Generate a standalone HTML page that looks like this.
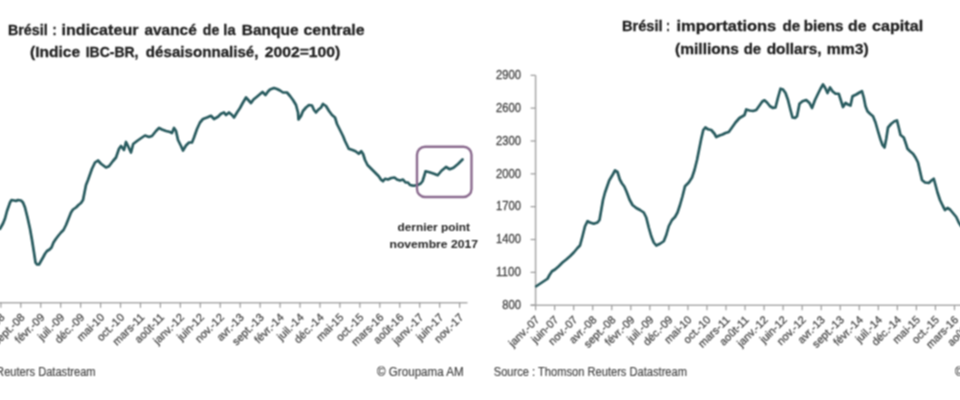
<!DOCTYPE html><html><head><meta charset="utf-8"><style>html,body{margin:0;padding:0;background:#fff;}svg{display:block;}text{font-family:"Liberation Sans",sans-serif;}</style></head><body>
<svg width="960" height="400" viewBox="0 0 960 400">
<defs><filter id="bl" filterUnits="userSpaceOnUse" x="-10" y="-10" width="980" height="420" color-interpolation-filters="sRGB"><feConvolveMatrix order="3" kernelMatrix="1 2 1 2 4 2 1 2 1" edgeMode="duplicate"/></filter></defs>
<rect width="960" height="400" fill="#fff"/>
<g filter="url(#bl)">
<text x="7.9" y="34.5" font-size="15" font-weight="bold" fill="#1e1e1e" stroke="#1e1e1e" stroke-width="0.3" textLength="39.8" lengthAdjust="spacingAndGlyphs">Brésil</text>
<text x="52.5" y="34.5" font-size="15" font-weight="bold" fill="#1e1e1e" stroke="#1e1e1e" stroke-width="0.3" textLength="4.1" lengthAdjust="spacingAndGlyphs">:</text>
<text x="61.48" y="34.5" font-size="15" font-weight="bold" fill="#1e1e1e" stroke="#1e1e1e" stroke-width="0.3" textLength="77.04" lengthAdjust="spacingAndGlyphs">indicateur</text>
<text x="144.5" y="34.5" font-size="15" font-weight="bold" fill="#1e1e1e" stroke="#1e1e1e" stroke-width="0.3" textLength="52.21" lengthAdjust="spacingAndGlyphs">avancé</text>
<text x="202.86" y="34.5" font-size="15" font-weight="bold" fill="#1e1e1e" stroke="#1e1e1e" stroke-width="0.3" textLength="16.47" lengthAdjust="spacingAndGlyphs">de</text>
<text x="223.34" y="34.5" font-size="15" font-weight="bold" fill="#1e1e1e" stroke="#1e1e1e" stroke-width="0.3" textLength="12.3" lengthAdjust="spacingAndGlyphs">la</text>
<text x="241.89" y="34.5" font-size="15" font-weight="bold" fill="#1e1e1e" stroke="#1e1e1e" stroke-width="0.3" textLength="56.62" lengthAdjust="spacingAndGlyphs">Banque</text>
<text x="303.5" y="34.5" font-size="15" font-weight="bold" fill="#1e1e1e" stroke="#1e1e1e" stroke-width="0.3" textLength="61.01" lengthAdjust="spacingAndGlyphs">centrale</text>
<text x="30.07" y="57.3" font-size="15" font-weight="bold" fill="#1e1e1e" stroke="#1e1e1e" stroke-width="0.3" textLength="50.05" lengthAdjust="spacingAndGlyphs">(Indice</text>
<text x="85.68" y="57.3" font-size="15" font-weight="bold" fill="#1e1e1e" stroke="#1e1e1e" stroke-width="0.3" textLength="52.84" lengthAdjust="spacingAndGlyphs">IBC-BR,</text>
<text x="145.89" y="57.3" font-size="15" font-weight="bold" fill="#1e1e1e" stroke="#1e1e1e" stroke-width="0.3" textLength="112.61" lengthAdjust="spacingAndGlyphs">désaisonnalisé,</text>
<text x="264.7" y="57.3" font-size="15" font-weight="bold" fill="#1e1e1e" stroke="#1e1e1e" stroke-width="0.3" textLength="75.6" lengthAdjust="spacingAndGlyphs">2002=100)</text>
<text x="621.89" y="31.0" font-size="15.5" font-weight="bold" fill="#1e1e1e" stroke="#1e1e1e" stroke-width="0.3" textLength="40.83" lengthAdjust="spacingAndGlyphs">Brésil</text>
<text x="666.3" y="31.0" font-size="15.5" font-weight="bold" fill="#1e1e1e" stroke="#1e1e1e" stroke-width="0.3" textLength="3.6" lengthAdjust="spacingAndGlyphs">:</text>
<text x="676.49" y="31.0" font-size="15.5" font-weight="bold" fill="#1e1e1e" stroke="#1e1e1e" stroke-width="0.3" textLength="99.82" lengthAdjust="spacingAndGlyphs">importations</text>
<text x="782.44" y="31.0" font-size="15.5" font-weight="bold" fill="#1e1e1e" stroke="#1e1e1e" stroke-width="0.3" textLength="17.7" lengthAdjust="spacingAndGlyphs">de</text>
<text x="803.67" y="31.0" font-size="15.5" font-weight="bold" fill="#1e1e1e" stroke="#1e1e1e" stroke-width="0.3" textLength="39.83" lengthAdjust="spacingAndGlyphs">biens</text>
<text x="848.08" y="31.0" font-size="15.5" font-weight="bold" fill="#1e1e1e" stroke="#1e1e1e" stroke-width="0.3" textLength="18.47" lengthAdjust="spacingAndGlyphs">de</text>
<text x="872.1" y="31.0" font-size="15.5" font-weight="bold" fill="#1e1e1e" stroke="#1e1e1e" stroke-width="0.3" textLength="51.02" lengthAdjust="spacingAndGlyphs">capital</text>
<text x="675.09" y="54.0" font-size="15.5" font-weight="bold" fill="#1e1e1e" stroke="#1e1e1e" stroke-width="0.3" textLength="63.82" lengthAdjust="spacingAndGlyphs">(millions</text>
<text x="743.71" y="54.0" font-size="15.5" font-weight="bold" fill="#1e1e1e" stroke="#1e1e1e" stroke-width="0.3" textLength="17.42" lengthAdjust="spacingAndGlyphs">de</text>
<text x="766.67" y="54.0" font-size="15.5" font-weight="bold" fill="#1e1e1e" stroke="#1e1e1e" stroke-width="0.3" textLength="54.86" lengthAdjust="spacingAndGlyphs">dollars,</text>
<text x="826.87" y="54.0" font-size="15.5" font-weight="bold" fill="#1e1e1e" stroke="#1e1e1e" stroke-width="0.3" textLength="41.83" lengthAdjust="spacingAndGlyphs">mm3)</text>
<line x1="-60" y1="302.8" x2="467.5" y2="302.8" stroke="#ababab" stroke-width="1.6"/>
<line x1="0.86" y1="302.8" x2="0.86" y2="307.8" stroke="#9a9a9a" stroke-width="1.2"/>
<text x="5.36" y="318.00" font-size="11" fill="#444444" stroke="#444444" stroke-width="0.25" text-anchor="end" transform="rotate(-45 5.36 318.00)">avr.-08</text>
<line x1="20.80" y1="302.8" x2="20.80" y2="307.8" stroke="#9a9a9a" stroke-width="1.2"/>
<text x="25.30" y="318.00" font-size="11" fill="#444444" stroke="#444444" stroke-width="0.25" text-anchor="end" transform="rotate(-45 25.30 318.00)">sept.-08</text>
<line x1="40.75" y1="302.8" x2="40.75" y2="307.8" stroke="#9a9a9a" stroke-width="1.2"/>
<text x="45.25" y="318.00" font-size="11" fill="#444444" stroke="#444444" stroke-width="0.25" text-anchor="end" transform="rotate(-45 45.25 318.00)">févr.-09</text>
<line x1="60.69" y1="302.8" x2="60.69" y2="307.8" stroke="#9a9a9a" stroke-width="1.2"/>
<text x="65.19" y="318.00" font-size="11" fill="#444444" stroke="#444444" stroke-width="0.25" text-anchor="end" transform="rotate(-45 65.19 318.00)">juil.-09</text>
<line x1="80.64" y1="302.8" x2="80.64" y2="307.8" stroke="#9a9a9a" stroke-width="1.2"/>
<text x="85.14" y="318.00" font-size="11" fill="#444444" stroke="#444444" stroke-width="0.25" text-anchor="end" transform="rotate(-45 85.14 318.00)">déc.-09</text>
<line x1="100.58" y1="302.8" x2="100.58" y2="307.8" stroke="#9a9a9a" stroke-width="1.2"/>
<text x="105.08" y="318.00" font-size="11" fill="#444444" stroke="#444444" stroke-width="0.25" text-anchor="end" transform="rotate(-45 105.08 318.00)">mai-10</text>
<line x1="120.52" y1="302.8" x2="120.52" y2="307.8" stroke="#9a9a9a" stroke-width="1.2"/>
<text x="125.02" y="318.00" font-size="11" fill="#444444" stroke="#444444" stroke-width="0.25" text-anchor="end" transform="rotate(-45 125.02 318.00)">oct.-10</text>
<line x1="140.47" y1="302.8" x2="140.47" y2="307.8" stroke="#9a9a9a" stroke-width="1.2"/>
<text x="144.97" y="318.00" font-size="11" fill="#444444" stroke="#444444" stroke-width="0.25" text-anchor="end" transform="rotate(-45 144.97 318.00)">mars-11</text>
<line x1="160.42" y1="302.8" x2="160.42" y2="307.8" stroke="#9a9a9a" stroke-width="1.2"/>
<text x="164.92" y="318.00" font-size="11" fill="#444444" stroke="#444444" stroke-width="0.25" text-anchor="end" transform="rotate(-45 164.92 318.00)">août-11</text>
<line x1="180.36" y1="302.8" x2="180.36" y2="307.8" stroke="#9a9a9a" stroke-width="1.2"/>
<text x="184.86" y="318.00" font-size="11" fill="#444444" stroke="#444444" stroke-width="0.25" text-anchor="end" transform="rotate(-45 184.86 318.00)">janv.-12</text>
<line x1="200.31" y1="302.8" x2="200.31" y2="307.8" stroke="#9a9a9a" stroke-width="1.2"/>
<text x="204.81" y="318.00" font-size="11" fill="#444444" stroke="#444444" stroke-width="0.25" text-anchor="end" transform="rotate(-45 204.81 318.00)">juin-12</text>
<line x1="220.25" y1="302.8" x2="220.25" y2="307.8" stroke="#9a9a9a" stroke-width="1.2"/>
<text x="224.75" y="318.00" font-size="11" fill="#444444" stroke="#444444" stroke-width="0.25" text-anchor="end" transform="rotate(-45 224.75 318.00)">nov.-12</text>
<line x1="240.20" y1="302.8" x2="240.20" y2="307.8" stroke="#9a9a9a" stroke-width="1.2"/>
<text x="244.70" y="318.00" font-size="11" fill="#444444" stroke="#444444" stroke-width="0.25" text-anchor="end" transform="rotate(-45 244.70 318.00)">avr.-13</text>
<line x1="260.14" y1="302.8" x2="260.14" y2="307.8" stroke="#9a9a9a" stroke-width="1.2"/>
<text x="264.64" y="318.00" font-size="11" fill="#444444" stroke="#444444" stroke-width="0.25" text-anchor="end" transform="rotate(-45 264.64 318.00)">sept.-13</text>
<line x1="280.09" y1="302.8" x2="280.09" y2="307.8" stroke="#9a9a9a" stroke-width="1.2"/>
<text x="284.59" y="318.00" font-size="11" fill="#444444" stroke="#444444" stroke-width="0.25" text-anchor="end" transform="rotate(-45 284.59 318.00)">févr.-14</text>
<line x1="300.03" y1="302.8" x2="300.03" y2="307.8" stroke="#9a9a9a" stroke-width="1.2"/>
<text x="304.53" y="318.00" font-size="11" fill="#444444" stroke="#444444" stroke-width="0.25" text-anchor="end" transform="rotate(-45 304.53 318.00)">juil.-14</text>
<line x1="319.98" y1="302.8" x2="319.98" y2="307.8" stroke="#9a9a9a" stroke-width="1.2"/>
<text x="324.48" y="318.00" font-size="11" fill="#444444" stroke="#444444" stroke-width="0.25" text-anchor="end" transform="rotate(-45 324.48 318.00)">déc.-14</text>
<line x1="339.92" y1="302.8" x2="339.92" y2="307.8" stroke="#9a9a9a" stroke-width="1.2"/>
<text x="344.42" y="318.00" font-size="11" fill="#444444" stroke="#444444" stroke-width="0.25" text-anchor="end" transform="rotate(-45 344.42 318.00)">mai-15</text>
<line x1="359.87" y1="302.8" x2="359.87" y2="307.8" stroke="#9a9a9a" stroke-width="1.2"/>
<text x="364.37" y="318.00" font-size="11" fill="#444444" stroke="#444444" stroke-width="0.25" text-anchor="end" transform="rotate(-45 364.37 318.00)">oct.-15</text>
<line x1="379.81" y1="302.8" x2="379.81" y2="307.8" stroke="#9a9a9a" stroke-width="1.2"/>
<text x="384.31" y="318.00" font-size="11" fill="#444444" stroke="#444444" stroke-width="0.25" text-anchor="end" transform="rotate(-45 384.31 318.00)">mars-16</text>
<line x1="399.75" y1="302.8" x2="399.75" y2="307.8" stroke="#9a9a9a" stroke-width="1.2"/>
<text x="404.25" y="318.00" font-size="11" fill="#444444" stroke="#444444" stroke-width="0.25" text-anchor="end" transform="rotate(-45 404.25 318.00)">août-16</text>
<line x1="419.70" y1="302.8" x2="419.70" y2="307.8" stroke="#9a9a9a" stroke-width="1.2"/>
<text x="424.20" y="318.00" font-size="11" fill="#444444" stroke="#444444" stroke-width="0.25" text-anchor="end" transform="rotate(-45 424.20 318.00)">janv.-17</text>
<line x1="439.65" y1="302.8" x2="439.65" y2="307.8" stroke="#9a9a9a" stroke-width="1.2"/>
<text x="444.15" y="318.00" font-size="11" fill="#444444" stroke="#444444" stroke-width="0.25" text-anchor="end" transform="rotate(-45 444.15 318.00)">juin-17</text>
<line x1="459.59" y1="302.8" x2="459.59" y2="307.8" stroke="#9a9a9a" stroke-width="1.2"/>
<text x="464.09" y="318.00" font-size="11" fill="#444444" stroke="#444444" stroke-width="0.25" text-anchor="end" transform="rotate(-45 464.09 318.00)">nov.-17</text>
<line x1="535.6" y1="75.3" x2="535.6" y2="305.2" stroke="#ababab" stroke-width="1.6"/>
<line x1="530.6" y1="305.2" x2="970" y2="305.2" stroke="#ababab" stroke-width="1.6"/>
<line x1="530.6" y1="75.30" x2="535.6" y2="75.30" stroke="#9a9a9a" stroke-width="1.2"/>
<text x="521" y="79.10" font-size="12" fill="#444444" stroke="#444444" stroke-width="0.3" text-anchor="end" textLength="25" lengthAdjust="spacingAndGlyphs">2900</text>
<line x1="530.6" y1="108.14" x2="535.6" y2="108.14" stroke="#9a9a9a" stroke-width="1.2"/>
<text x="521" y="111.94" font-size="12" fill="#444444" stroke="#444444" stroke-width="0.3" text-anchor="end" textLength="25" lengthAdjust="spacingAndGlyphs">2600</text>
<line x1="530.6" y1="140.99" x2="535.6" y2="140.99" stroke="#9a9a9a" stroke-width="1.2"/>
<text x="521" y="144.79" font-size="12" fill="#444444" stroke="#444444" stroke-width="0.3" text-anchor="end" textLength="25" lengthAdjust="spacingAndGlyphs">2300</text>
<line x1="530.6" y1="173.83" x2="535.6" y2="173.83" stroke="#9a9a9a" stroke-width="1.2"/>
<text x="521" y="177.63" font-size="12" fill="#444444" stroke="#444444" stroke-width="0.3" text-anchor="end" textLength="25" lengthAdjust="spacingAndGlyphs">2000</text>
<line x1="530.6" y1="206.67" x2="535.6" y2="206.67" stroke="#9a9a9a" stroke-width="1.2"/>
<text x="521" y="210.47" font-size="12" fill="#444444" stroke="#444444" stroke-width="0.3" text-anchor="end" textLength="25" lengthAdjust="spacingAndGlyphs">1700</text>
<line x1="530.6" y1="239.51" x2="535.6" y2="239.51" stroke="#9a9a9a" stroke-width="1.2"/>
<text x="521" y="243.31" font-size="12" fill="#444444" stroke="#444444" stroke-width="0.3" text-anchor="end" textLength="25" lengthAdjust="spacingAndGlyphs">1400</text>
<line x1="530.6" y1="272.36" x2="535.6" y2="272.36" stroke="#9a9a9a" stroke-width="1.2"/>
<text x="521" y="276.16" font-size="12" fill="#444444" stroke="#444444" stroke-width="0.3" text-anchor="end" textLength="25" lengthAdjust="spacingAndGlyphs">1100</text>
<line x1="530.6" y1="305.20" x2="535.6" y2="305.20" stroke="#9a9a9a" stroke-width="1.2"/>
<text x="521" y="309.00" font-size="12" fill="#444444" stroke="#444444" stroke-width="0.3" text-anchor="end" textLength="18.8" lengthAdjust="spacingAndGlyphs">800</text>
<line x1="535.60" y1="305.2" x2="535.60" y2="310.2" stroke="#9a9a9a" stroke-width="1.2"/>
<text x="540.10" y="320.40" font-size="11" fill="#444444" stroke="#444444" stroke-width="0.25" text-anchor="end" transform="rotate(-45 540.10 320.40)">janv.-07</text>
<line x1="554.64" y1="305.2" x2="554.64" y2="310.2" stroke="#9a9a9a" stroke-width="1.2"/>
<text x="559.14" y="320.40" font-size="11" fill="#444444" stroke="#444444" stroke-width="0.25" text-anchor="end" transform="rotate(-45 559.14 320.40)">juin-07</text>
<line x1="573.68" y1="305.2" x2="573.68" y2="310.2" stroke="#9a9a9a" stroke-width="1.2"/>
<text x="578.18" y="320.40" font-size="11" fill="#444444" stroke="#444444" stroke-width="0.25" text-anchor="end" transform="rotate(-45 578.18 320.40)">nov.-07</text>
<line x1="592.72" y1="305.2" x2="592.72" y2="310.2" stroke="#9a9a9a" stroke-width="1.2"/>
<text x="597.22" y="320.40" font-size="11" fill="#444444" stroke="#444444" stroke-width="0.25" text-anchor="end" transform="rotate(-45 597.22 320.40)">avr.-08</text>
<line x1="611.76" y1="305.2" x2="611.76" y2="310.2" stroke="#9a9a9a" stroke-width="1.2"/>
<text x="616.26" y="320.40" font-size="11" fill="#444444" stroke="#444444" stroke-width="0.25" text-anchor="end" transform="rotate(-45 616.26 320.40)">sept.-08</text>
<line x1="630.80" y1="305.2" x2="630.80" y2="310.2" stroke="#9a9a9a" stroke-width="1.2"/>
<text x="635.30" y="320.40" font-size="11" fill="#444444" stroke="#444444" stroke-width="0.25" text-anchor="end" transform="rotate(-45 635.30 320.40)">févr.-09</text>
<line x1="649.84" y1="305.2" x2="649.84" y2="310.2" stroke="#9a9a9a" stroke-width="1.2"/>
<text x="654.34" y="320.40" font-size="11" fill="#444444" stroke="#444444" stroke-width="0.25" text-anchor="end" transform="rotate(-45 654.34 320.40)">juil.-09</text>
<line x1="668.88" y1="305.2" x2="668.88" y2="310.2" stroke="#9a9a9a" stroke-width="1.2"/>
<text x="673.38" y="320.40" font-size="11" fill="#444444" stroke="#444444" stroke-width="0.25" text-anchor="end" transform="rotate(-45 673.38 320.40)">déc.-09</text>
<line x1="687.92" y1="305.2" x2="687.92" y2="310.2" stroke="#9a9a9a" stroke-width="1.2"/>
<text x="692.42" y="320.40" font-size="11" fill="#444444" stroke="#444444" stroke-width="0.25" text-anchor="end" transform="rotate(-45 692.42 320.40)">mai-10</text>
<line x1="706.96" y1="305.2" x2="706.96" y2="310.2" stroke="#9a9a9a" stroke-width="1.2"/>
<text x="711.46" y="320.40" font-size="11" fill="#444444" stroke="#444444" stroke-width="0.25" text-anchor="end" transform="rotate(-45 711.46 320.40)">oct.-10</text>
<line x1="726.00" y1="305.2" x2="726.00" y2="310.2" stroke="#9a9a9a" stroke-width="1.2"/>
<text x="730.50" y="320.40" font-size="11" fill="#444444" stroke="#444444" stroke-width="0.25" text-anchor="end" transform="rotate(-45 730.50 320.40)">mars-11</text>
<line x1="745.04" y1="305.2" x2="745.04" y2="310.2" stroke="#9a9a9a" stroke-width="1.2"/>
<text x="749.54" y="320.40" font-size="11" fill="#444444" stroke="#444444" stroke-width="0.25" text-anchor="end" transform="rotate(-45 749.54 320.40)">août-11</text>
<line x1="764.08" y1="305.2" x2="764.08" y2="310.2" stroke="#9a9a9a" stroke-width="1.2"/>
<text x="768.58" y="320.40" font-size="11" fill="#444444" stroke="#444444" stroke-width="0.25" text-anchor="end" transform="rotate(-45 768.58 320.40)">janv.-12</text>
<line x1="783.12" y1="305.2" x2="783.12" y2="310.2" stroke="#9a9a9a" stroke-width="1.2"/>
<text x="787.62" y="320.40" font-size="11" fill="#444444" stroke="#444444" stroke-width="0.25" text-anchor="end" transform="rotate(-45 787.62 320.40)">juin-12</text>
<line x1="802.16" y1="305.2" x2="802.16" y2="310.2" stroke="#9a9a9a" stroke-width="1.2"/>
<text x="806.66" y="320.40" font-size="11" fill="#444444" stroke="#444444" stroke-width="0.25" text-anchor="end" transform="rotate(-45 806.66 320.40)">nov.-12</text>
<line x1="821.20" y1="305.2" x2="821.20" y2="310.2" stroke="#9a9a9a" stroke-width="1.2"/>
<text x="825.70" y="320.40" font-size="11" fill="#444444" stroke="#444444" stroke-width="0.25" text-anchor="end" transform="rotate(-45 825.70 320.40)">avr.-13</text>
<line x1="840.24" y1="305.2" x2="840.24" y2="310.2" stroke="#9a9a9a" stroke-width="1.2"/>
<text x="844.74" y="320.40" font-size="11" fill="#444444" stroke="#444444" stroke-width="0.25" text-anchor="end" transform="rotate(-45 844.74 320.40)">sept.-13</text>
<line x1="859.28" y1="305.2" x2="859.28" y2="310.2" stroke="#9a9a9a" stroke-width="1.2"/>
<text x="863.78" y="320.40" font-size="11" fill="#444444" stroke="#444444" stroke-width="0.25" text-anchor="end" transform="rotate(-45 863.78 320.40)">févr.-14</text>
<line x1="878.32" y1="305.2" x2="878.32" y2="310.2" stroke="#9a9a9a" stroke-width="1.2"/>
<text x="882.82" y="320.40" font-size="11" fill="#444444" stroke="#444444" stroke-width="0.25" text-anchor="end" transform="rotate(-45 882.82 320.40)">juil.-14</text>
<line x1="897.36" y1="305.2" x2="897.36" y2="310.2" stroke="#9a9a9a" stroke-width="1.2"/>
<text x="901.86" y="320.40" font-size="11" fill="#444444" stroke="#444444" stroke-width="0.25" text-anchor="end" transform="rotate(-45 901.86 320.40)">déc.-14</text>
<line x1="916.40" y1="305.2" x2="916.40" y2="310.2" stroke="#9a9a9a" stroke-width="1.2"/>
<text x="920.90" y="320.40" font-size="11" fill="#444444" stroke="#444444" stroke-width="0.25" text-anchor="end" transform="rotate(-45 920.90 320.40)">mai-15</text>
<line x1="935.44" y1="305.2" x2="935.44" y2="310.2" stroke="#9a9a9a" stroke-width="1.2"/>
<text x="939.94" y="320.40" font-size="11" fill="#444444" stroke="#444444" stroke-width="0.25" text-anchor="end" transform="rotate(-45 939.94 320.40)">oct.-15</text>
<line x1="954.48" y1="305.2" x2="954.48" y2="310.2" stroke="#9a9a9a" stroke-width="1.2"/>
<text x="958.98" y="320.40" font-size="11" fill="#444444" stroke="#444444" stroke-width="0.25" text-anchor="end" transform="rotate(-45 958.98 320.40)">mars-16</text>
<line x1="973.52" y1="305.2" x2="973.52" y2="310.2" stroke="#9a9a9a" stroke-width="1.2"/>
<text x="978.02" y="320.40" font-size="11" fill="#444444" stroke="#444444" stroke-width="0.25" text-anchor="end" transform="rotate(-45 978.02 320.40)">août-16</text>
<polyline points="0,228.75 3,223.5 5,218.5 7,211 10,202.5 11.5,200 14,200.5 16,201 18,200 21,200.5 23,202.5 25,207.5 27.5,217.5 30,228.75 32,240 34,252.5 35.5,262.5 37,264.5 39,264.5 41,261 43,257.5 45,253.75 47,251 49.5,249.5 51.5,247.5 53.5,242.5 56,238.75 58.5,235.5 61,232.5 63.5,230 66,225 68.5,218.75 71,212.5 73,209.5 76,207.5 78.5,205 81,203 83,200 84.5,192.5 86,185 88,180 92,168.75 95,162.5 98,160.5 101,163.75 106,167.5 109,166.25 113,161 116,157.5 119,148.75 121,146 124,150 126,142 128,146 131,152.5 133.2,144 137,141 142,137.5 145,135.5 149,137 152,136 156,131 159,128 162,129.5 166,131 170,132 172,133 174,128 176,131 178,140 181,146 183,150.5 186,145.5 189,142.5 192,142.5 194,137.5 197,129 200,122.5 203,119 207,117.5 211,115.75 214,119 218,116.75 221,113.75 224,112.5 226,115 229,112.5 232,115 234,117.5 237,112.5 240,108 243,102.5 246,97.5 251,103 253.5,99.5 256,97.5 259,95 262.5,92 265.5,95 268,91.5 270,89.5 274,88 277,89 280,90.5 283,92.5 287,92.5 290,96 293,100 296,105 298,112.5 298.5,119.5 301,116 303,111 306,107.5 309,105 312,105.5 314,110 316,112.5 318,110 321,107.5 323,104 326,106 329,111 332,115 335,117.5 337,124 340,130 343,136 345,141 348.75,148.75 352.5,150 355.5,151.25 358.75,153.75 361.25,151.25 363,153.75 365,160 367.5,165 371.25,168.75 375,172.5 378.75,176.25 381.25,180 383,181.25 385,178.75 388,179.5 391.25,178 394.5,177.5 397,179.5 400,180.5 403,179.5 405.5,182.5 408,182.5 410,185 413.75,185.75 417.5,185 420.5,183.75 422.5,181.25 424.5,175 425.5,171.25 429.5,172.25 434,173.75 437.75,175.25 441.5,170.75 446,167 449.75,169.25 453.5,167.75 458,164 462.5,159.5" fill="none" stroke="#275a5e" stroke-width="2.7" stroke-linejoin="round" stroke-linecap="round"/>
<polyline points="536.25,286.25 540,283.75 543.75,281.25 547.5,278.75 549.5,275 552,271.25 555,269.5 558.75,266.25 562.5,262.5 566.25,259.5 570,256.25 573.75,252.5 577.5,248 580,245.5 582.5,236.25 585,226.25 587.5,221.25 590,222.5 593.75,223.75 597.5,222.5 599.5,220 601.25,210 603,200 605,192.5 609.2,180.5 612.8,174.5 615,170.5 617.5,172 619.8,179.5 622,183.5 624.3,186.5 626.5,191.5 629.5,199.5 632.5,205 636.25,208 640,210 643.75,212.5 646.25,217.5 648.75,227.5 651.25,236.25 653.75,242.5 656.25,245.5 660,243.75 663.75,241.25 666.25,235 668.75,226.25 672,220 675,217 677.5,212.5 680,205 682.5,196.25 685,186.25 688.75,182.5 692,177.5 694.5,170 697,160 699,150 701.3,138.5 703.3,130 705.3,127.5 708,129.25 711.25,130 714.5,133.75 716.25,137 719.5,135.5 722.5,134.5 725.5,133 728.75,132 732,127.5 735.5,122.5 739.5,118 742.5,116.25 744.5,115 746.25,109.5 749.5,110.5 753,111 756.25,110 759.5,105.5 762.3,101.5 764.5,100.3 767,102.5 770,106.25 773,108 775.5,107.5 778,97.5 780.5,88.75 783,89.5 785.5,93 788,100 790.5,110 792.5,117.5 795,118 797,116.25 799.5,103.75 802.5,101.25 806.25,100 809.5,103 812,108 815,100 818,93.75 820.5,88.75 823,84.5 825,87.5 827.5,93 830,87.5 832.5,91.25 835.5,93.75 838.75,93.75 840.75,100 843,107 845.5,103 848,104.5 850.5,105.5 852.5,96.25 856.25,94.5 859.5,92.5 862,91.25 863.75,97.5 865.5,106.25 867.5,111.25 870,113.75 873,116.25 875.5,122.5 878,131.25 880.5,139.5 882.5,145 884.5,147.5 886.25,138.75 888,127.5 891.25,123.75 894.5,121.25 897,120.5 898.75,127.5 900.5,135 903.75,137.5 905.5,142.5 907.5,148.75 910,151.25 913,153.75 915.5,157.5 918,162.5 920,171.25 922,180 925,182.5 928.75,183 932,180 933.75,178.75 935.5,185 937.5,192.5 940,200 943,206.25 945,210 947.5,208 950,209.5 952.5,212.5 956.25,217 958.75,222.5 961,226" fill="none" stroke="#275a5e" stroke-width="2.7" stroke-linejoin="round" stroke-linecap="round"/>
<rect x="417" y="146.75" width="54.5" height="50.25" rx="8" fill="none" stroke="#8a6a8e" stroke-width="2.4"/>
<text x="397.5" y="231" font-size="11.5" font-weight="bold" fill="#2a2a2a" stroke="#2a2a2a" stroke-width="0.05" textLength="72.5" lengthAdjust="spacingAndGlyphs">dernier point</text>
<text x="389.5" y="247.5" font-size="11.5" font-weight="bold" fill="#2a2a2a" stroke="#2a2a2a" stroke-width="0.05" textLength="88.5" lengthAdjust="spacingAndGlyphs">novembre 2017</text>
<text x="493.75" y="376.2" font-size="12" fill="#404040" stroke="#404040" stroke-width="0.15" textLength="193.25" lengthAdjust="spacingAndGlyphs">Source : Thomson Reuters Datastream</text>
<text x="-97.65" y="376.2" font-size="12" fill="#404040" stroke="#404040" stroke-width="0.15" textLength="193.25" lengthAdjust="spacingAndGlyphs">Source : Thomson Reuters Datastream</text>
<text x="377" y="376.2" font-size="12" fill="#404040" stroke="#404040" stroke-width="0.15" textLength="86.75" lengthAdjust="spacingAndGlyphs">© Groupama AM</text>
<text x="955" y="376.2" font-size="12" fill="#404040" stroke="#404040" stroke-width="0.15" textLength="86.75" lengthAdjust="spacingAndGlyphs">© Groupama AM</text>
</g></svg></body></html>
